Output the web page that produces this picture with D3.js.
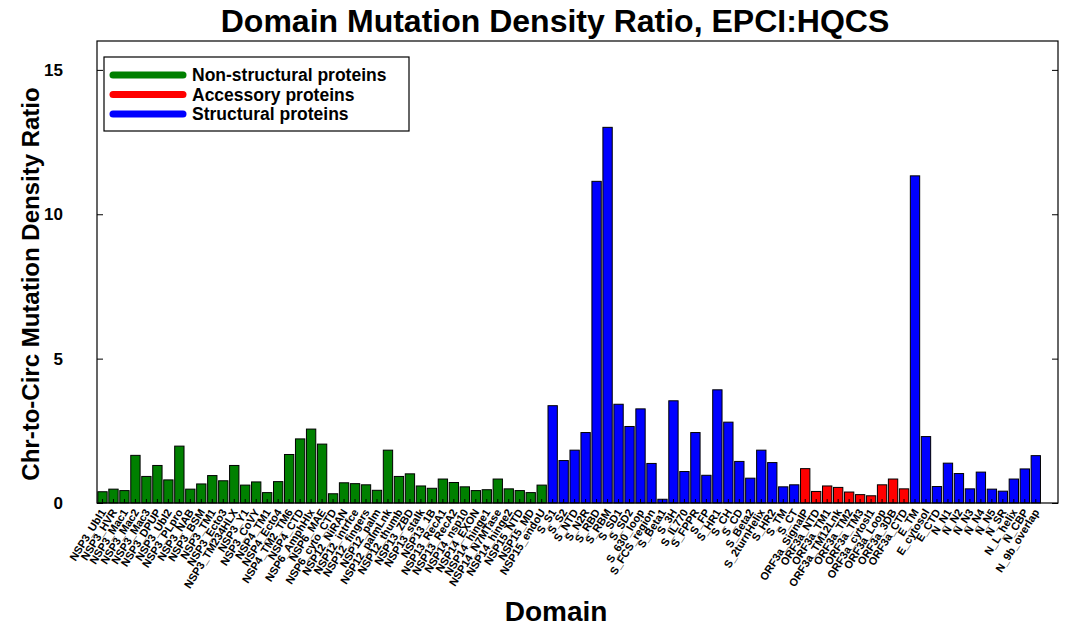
<!DOCTYPE html>
<html>
<head>
<meta charset="utf-8">
<script src="https://cdn.jsdelivr.net/npm/d3@7"></script>
<style>
  html, body { margin: 0; padding: 0; background: #fff; }
  svg { display: block; font-family: "Liberation Sans", Arial, Helvetica, sans-serif; }
</style>
</head>
<body>
<svg id="chart" width="1076" height="634"></svg>
<script>
// ---- Data ----
const nspDomains = ["NSP3_Ubl1","NSP3_HVR","NSP3_Mac1","NSP3_Mac2","NSP3_Mac3","NSP3_DPUP","NSP3_Ubl2","NSP3_PLpro","NSP3_NAB","NSP3_BSM","NSP3_TM1","NSP3_Ecto3","NSP3_TM234HLX","NSP3_Y1","NSP3_CoVY","NSP4_TM1","NSP4_Ecto4","NSP4_TM2_TM6","NSP4_CTD","NSP6_AmphHlx","NSP6_MAE","NSP6_cyto_CTD","NSP12_NiRAN","NSP12_intrfce","NSP12_fingers","NSP12_palm","NSP12_palmLnk","NSP12_thumb","NSP13_ZBD","NSP13_stalk","NSP13_1B","NSP13_RecA1","NSP13_RecA2","NSP14_nsp10","NSP14_EXON","NSP14_hinge1","NSP14_N7MTase","NSP14_hinge2","NSP15_NTD","NSP15_MD","NSP15_endoU"];
const nspValues = [0.39,0.48,0.43,1.65,0.92,1.30,0.80,1.97,0.48,0.66,0.95,0.77,1.30,0.62,0.73,0.36,0.74,1.68,2.22,2.56,2.04,0.32,0.70,0.67,0.63,0.44,1.83,0.92,1.01,0.59,0.51,0.83,0.71,0.56,0.43,0.46,0.83,0.49,0.43,0.36,0.62];

const spikeDomains = ["S_S1","S_S2","S_NTD","S_N2R","S_RBD","S_RBM","S_SD1","S_SD2","S_630_loop","S_FCS_region","S_Beta1","S_3H","S_IL770","S_FPPR","S_FP","S_HR1","S_CH","S_CD","S_Beta2","S_2turnHelix","S_HR2","S_TM","S_CT"];
const spikeValues = [3.37,1.47,1.83,2.44,11.14,13.01,3.42,2.65,3.26,1.37,0.13,3.54,1.09,2.44,0.96,3.92,2.80,1.44,0.86,1.83,1.40,0.56,0.63];

const orfDomains = ["ORF3a_SignalP","ORF3a_NTD","ORF3a_TM1","ORF3a_TM12Lnk","ORF3a_TM2","ORF3a_TM3","ORF3a_cytosl1","ORF3a_Loop","ORF3a_3DB","ORF3a_CTD"];
const orfValues = [1.19,0.40,0.59,0.54,0.38,0.29,0.25,0.63,0.83,0.49];

const enDomains = ["E_TM","E_cytosol","E_CTD","N_N1","N_N2","N_N3","N_N4","N_N5","N_SR","N_L_helix","N_CBP","N_9b_overlap"];
const enValues = [11.33,2.30,0.57,1.38,1.02,0.49,1.07,0.48,0.41,0.83,1.18,1.64];

const groupNames = ["Non-structural proteins","Accessory proteins","Structural proteins"];
const groupColors = ["#008000","#ff0000","#0000ff"];
const yTicks = [0,5,10,15];

// ---- Build rows ----
const rows = [];
nspDomains.forEach((d,i)=>rows.push({name:d, value:nspValues[i], group:0}));
spikeDomains.forEach((d,i)=>rows.push({name:d, value:spikeValues[i], group:2}));
orfDomains.forEach((d,i)=>rows.push({name:d, value:orfValues[i], group:1}));
enDomains.forEach((d,i)=>rows.push({name:d, value:enValues[i], group:2}));

// ---- Layout ----
const L = 97, R = 1058, T = 41, B = 503;
const step = 10.98;
const svg = d3.select("#chart");

const x = d3.scaleBand()
  .domain(rows.map(r=>r.name))
  .range([L, L + step*rows.length])
  .paddingInner(0.15).paddingOuter(0.075);
const y = d3.scaleLinear().domain([0,16]).range([B, T]);

// Bars
svg.append("g").selectAll("rect").data(rows).join("rect")
  .attr("x", d=>x(d.name))
  .attr("y", d=>y(d.value))
  .attr("width", x.bandwidth())
  .attr("height", d=>y(0)-y(d.value))
  .attr("fill", d=>groupColors[d.group])
  .attr("stroke", "#000")
  .attr("stroke-width", 1);

// Frame
svg.append("rect").attr("x",L).attr("y",T).attr("width",R-L).attr("height",B-T)
  .attr("fill","none").attr("stroke","#000").attr("stroke-width",1.2);

// Y axis (inward ticks) left and right
const yAxisL = d3.axisLeft(y).tickValues(yTicks).tickSizeInner(-6).tickSizeOuter(0).tickPadding(34);
const gyl = svg.append("g").attr("transform",`translate(${L},0)`).call(yAxisL);
gyl.select(".domain").remove();
gyl.selectAll("text").attr("font-size",17).attr("font-weight","bold").attr("fill","#000")
  .attr("font-family","Liberation Sans, Arial, sans-serif");
const yAxisR = d3.axisRight(y).tickValues(yTicks).tickSizeInner(-6).tickSizeOuter(0).tickFormat("");
const gyr = svg.append("g").attr("transform",`translate(${R},0)`).call(yAxisR);
gyr.select(".domain").remove();

// X axis with inward ticks and rotated labels
const xAxis = d3.axisBottom(x).tickSizeInner(-4).tickSizeOuter(0).tickPadding(0);
const gx = svg.append("g").attr("transform",`translate(0,${B})`).call(xAxis);
gx.select(".domain").remove();
gx.selectAll(".tick text")
  .attr("font-size",11).attr("font-weight","bold").attr("fill","#000")
  .attr("font-family","Liberation Sans, Arial, sans-serif")
  .attr("text-anchor","end")
  .attr("dy",0)
  .attr("transform","translate(4,9) rotate(-58)");

// Title
svg.append("text").attr("x",555).attr("y",32).attr("text-anchor","middle")
  .attr("font-size",32).attr("font-weight","bold").text("Domain Mutation Density Ratio, EPCI:HQCS");

// Axis titles
svg.append("text").attr("x",556).attr("y",621).attr("text-anchor","middle")
  .attr("font-size",28).attr("font-weight","bold").text("Domain");
svg.append("text").attr("transform","translate(39,284) rotate(-90)").attr("text-anchor","middle")
  .attr("font-size",24).attr("font-weight","bold").text("Chr-to-Circ Mutation Density Ratio");

// Legend
const lg = svg.append("g");
lg.append("rect").attr("x",104).attr("y",57).attr("width",305).attr("height",74)
  .attr("fill","#fff").attr("stroke","#000").attr("stroke-width",1.2);
const legendOrder = [0,1,2];
legendOrder.forEach((gi,k)=>{
  const yy = 75 + k*19.5;
  lg.append("line").attr("x1",113).attr("x2",183).attr("y1",yy).attr("y2",yy)
    .attr("stroke",groupColors[gi]).attr("stroke-width",7).attr("stroke-linecap","round");
  lg.append("text").attr("x",192).attr("y",yy+6).attr("font-size",17.5).attr("font-weight","bold")
    .text(groupNames[gi]);
});
</script>
</body>
</html>
